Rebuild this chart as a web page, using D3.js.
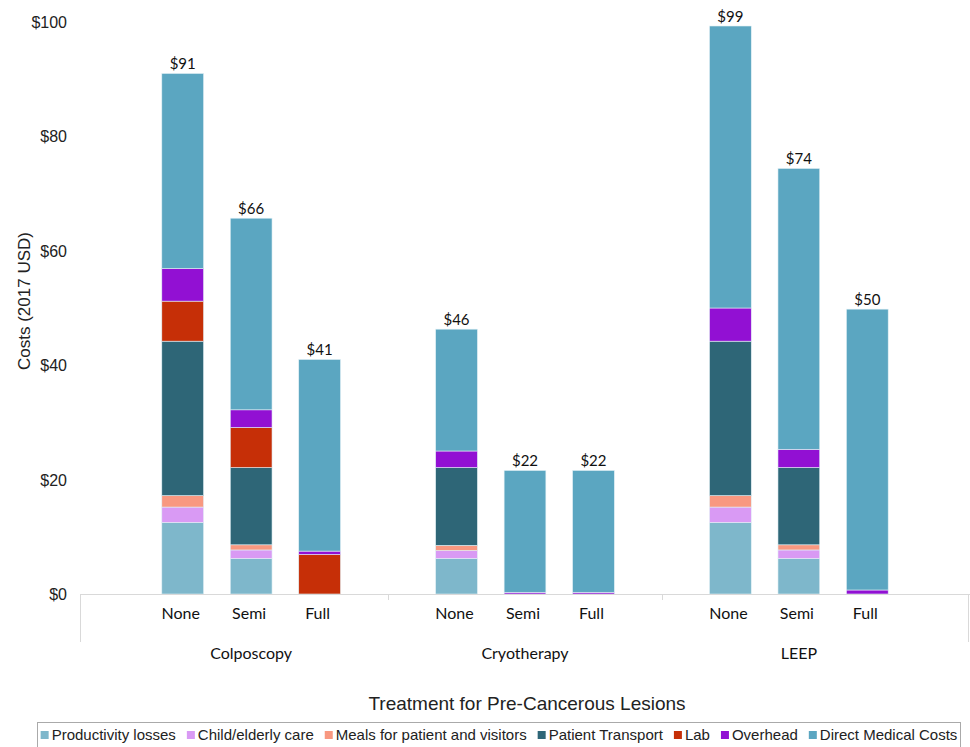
<!DOCTYPE html>
<html>
<head>
<meta charset="utf-8">
<script src="https://cdn.jsdelivr.net/npm/d3@7/dist/d3.min.js"></script>
<style>
  body { margin: 0; background: #fff; }
  svg { display: block; }
  .tick-y { font-family: "Liberation Sans", Arial, sans-serif; font-size: 16px; fill: #222; }
  .cat { font-family: Lato, "Open Sans", sans-serif; font-size: 16px; fill: #111; }
  .total { font-family: Lato, "Open Sans", sans-serif; font-size: 15px; fill: #111; }
  .title { font-family: "Liberation Sans", Arial, sans-serif; fill: #222; }
  .legend { font-family: "Liberation Sans", Arial, sans-serif; font-size: 15px; fill: #222; }
</style>
</head>
<body>
<svg id="chart" width="970" height="747"></svg>
<script>
// ---- data ----
var groups = ['Colposcopy', 'Cryotherapy', 'LEEP'];
var levels = ['None', 'Semi', 'Full'];

var seriesNames = ['Productivity losses', 'Child/elderly care', 'Meals for patient and visitors',
                   'Patient Transport', 'Lab', 'Overhead', 'Direct Medical Costs'];
var seriesColors = ['#7eb7cb', '#d99af4', '#f89880', '#2e6677', '#c62f07', '#9210d3', '#5ba6c1'];

// one value per bar: Colposcopy None/Semi/Full, Cryotherapy None/Semi/Full, LEEP None/Semi/Full
var productivity = [12.5, 6.2, 0,   6.2, 0, 0,   12.5, 6.2, 0];
var childCare    = [2.7,  1.5, 0,   1.4, 0, 0,   2.7,  1.5, 0];
var meals        = [2.0,  0.9, 0,   0.9, 0, 0,   2.0,  0.9, 0];
var transport    = [27.0, 13.5, 0,  13.6, 0, 0,  27.0, 13.5, 0];
var lab          = [7.0,  7.0, 6.9, 0, 0, 0,     0, 0, 0];
var overhead     = [5.7,  3.1, 0.6, 2.9, 0.3, 0.3, 5.8, 3.2, 0.7];
var direct       = [34.1, 33.5, 33.5, 21.3, 21.3, 21.3, 49.3, 49.1, 49.1];

var yTicks = [0, 20, 40, 60, 80, 100];

;(function(d3) {
    'use strict';

    var svg = d3.select('#chart');
    var plotLeft = 80, plotRight = 970, plotTop = 22, plotBottom = 594;

    var keys = ['p', 'c', 'm', 't', 'l', 'o', 'd'];
    var rows = [];
    var slots = ['gap0'];
    groups.forEach(function(g, gi) {
        levels.forEach(function(lv, li) {
            var i = gi * levels.length + li;
            var key = g + '|' + lv;
            slots.push(key);
            rows.push({ key: key, group: g, level: lv,
                p: productivity[i], c: childCare[i], m: meals[i], t: transport[i],
                l: lab[i], o: overhead[i], d: direct[i] });
        });
        slots.push('gap' + (gi + 1));
    });

    var x = d3.scaleBand().domain(slots).range([plotLeft, plotRight]).paddingInner(0.39).paddingOuter(0.195);
    var y = d3.scaleLinear().domain([0, 100]).range([plotBottom, plotTop]);

    var stacked = d3.stack().keys(keys)(rows);

    // bars
    svg.append('g')
        .selectAll('g')
        .data(stacked)
        .join('g')
        .attr('fill', function(d, i) { return seriesColors[i]; })
        .selectAll('rect')
        .data(function(d) { return d; })
        .join('rect')
        .attr('x', function(d) { return x(d.data.key); })
        .attr('width', x.bandwidth())
        .attr('y', function(d) { return y(d[1]); })
        .attr('height', function(d) { return Math.max(0, y(d[0]) - y(d[1])); })
        .attr('stroke', '#e3f1f6')
        .attr('stroke-width', 0.6);

    var total = function(d) { return d3.sum(keys, function(k) { return d[k]; }); };

    // totals
    svg.append('g')
        .selectAll('text')
        .data(rows)
        .join('text')
        .attr('class', 'total')
        .attr('text-anchor', 'middle')
        .attr('x', function(d) { return x(d.key) + x.bandwidth() / 2; })
        .attr('y', function(d) { return y(total(d)) - 4; })
        .text(function(d) { return '$' + Math.round(total(d)); });

    // y axis labels
    svg.append('g')
        .selectAll('text')
        .data(yTicks)
        .join('text')
        .attr('class', 'tick-y')
        .attr('text-anchor', 'end')
        .attr('x', 67)
        .attr('y', function(d) { return y(d) + 6; })
        .text(function(d) { return '$' + d; });

    // x axis lines
    var axis = svg.append('g').attr('stroke', '#d9d9d9').attr('stroke-width', 1);
    axis.append('line').attr('x1', plotLeft).attr('x2', plotRight).attr('y1', plotBottom + 0.5).attr('y2', plotBottom + 0.5);
    axis.append('line').attr('x1', plotLeft + 0.5).attr('x2', plotLeft + 0.5).attr('y1', plotBottom).attr('y2', plotBottom + 48);
    axis.append('line').attr('x1', plotRight - 1.5).attr('x2', plotRight - 1.5).attr('y1', plotBottom).attr('y2', plotBottom + 48);
    axis.selectAll('line.sep')
        .data(slots.filter(function(s, i) { return i > 0 && s.indexOf('gap') === 0 && i < slots.length - 1; }))
        .join('line')
        .attr('class', 'sep')
        .attr('x1', function(d) { return Math.round(x(d) + x.bandwidth() / 2) + 0.5; })
        .attr('x2', function(d) { return Math.round(x(d) + x.bandwidth() / 2) + 0.5; })
        .attr('y1', plotBottom)
        .attr('y2', plotBottom + 6);

    // level labels
    svg.append('g')
        .selectAll('text')
        .data(rows)
        .join('text')
        .attr('class', 'cat')
        .attr('text-anchor', 'middle')
        .attr('x', function(d) { return x(d.key) + x.bandwidth() / 2 - 2; })
        .attr('y', 619)
        .text(function(d) { return d.level; });

    // group labels
    svg.append('g')
        .selectAll('text')
        .data(groups)
        .join('text')
        .attr('class', 'cat')
        .attr('text-anchor', 'middle')
        .attr('x', function(g) { return x(g + '|' + levels[1]) + x.bandwidth() / 2; })
        .attr('y', 659)
        .text(function(g) { return g; });

    // axis titles
    svg.append('text')
        .attr('class', 'title')
        .attr('font-size', 17)
        .attr('text-anchor', 'middle')
        .attr('transform', 'translate(30,301) rotate(-90)')
        .text('Costs (2017 USD)');

    svg.append('text')
        .attr('class', 'title')
        .attr('font-size', 19)
        .attr('text-anchor', 'middle')
        .attr('x', 527)
        .attr('y', 710)
        .text('Treatment for Pre-Cancerous Lesions');

    // legend
    var lg = svg.append('g');
    lg.append('rect')
        .attr('x', 37.5).attr('y', 722.5).attr('width', 923).attr('height', 30)
        .attr('fill', '#fff').attr('stroke', '#aaa');

    var items = lg.selectAll('g.item')
        .data(seriesNames)
        .join('g')
        .attr('class', 'item');
    items.append('rect')
        .attr('width', 8).attr('height', 8)
        .attr('y', 731)
        .attr('fill', function(d, i) { return seriesColors[i]; });
    items.append('text')
        .attr('class', 'legend')
        .attr('y', 740)
        .text(function(d) { return d; });

    var widths = [];
    items.select('text').each(function() { widths.push(this.getComputedTextLength()); });
    var gap = 11, markW = 11;
    var totalW = d3.sum(widths) + widths.length * markW + (widths.length - 1) * gap;
    var cx = 37.5 + (923 - totalW) / 2;
    items.each(function(d, i) {
        var g = d3.select(this);
        g.select('rect').attr('x', cx);
        g.select('text').attr('x', cx + markW);
        cx += markW + widths[i] + gap;
    });
}(window.d3));
</script>
</body>
</html>
